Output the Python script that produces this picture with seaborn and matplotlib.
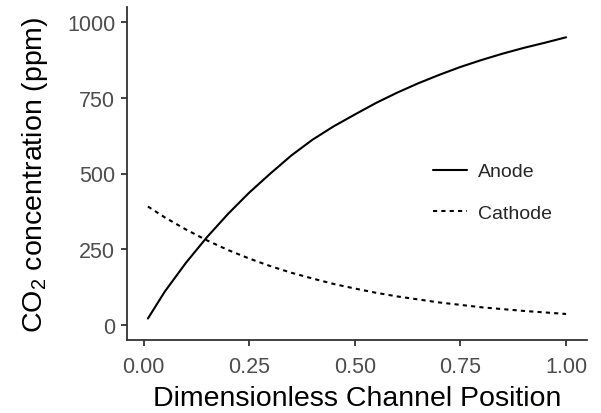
import numpy as np
import pandas as pd
import matplotlib
matplotlib.use("Agg")
import matplotlib.pyplot as plt
import seaborn as sns

# ── data ────────────────────────────────────────────────
position = [0.01, 0.05, 0.10, 0.15, 0.20, 0.25, 0.30, 0.35, 0.40, 0.45, 0.50,
            0.55, 0.60, 0.65, 0.70, 0.75, 0.80, 0.85, 0.90, 0.95, 1.00]
anode    = [21, 110, 205, 290, 367, 437, 500, 560, 612, 656, 695,
            733, 767, 798, 826, 852, 875, 896, 915, 932, 950]
cathode  = [391, 355, 315, 279, 247, 219, 194, 172, 153, 135, 120,
            106, 94, 84, 74, 66, 58, 52, 46, 41, 36]

x_ticks  = [0.00, 0.25, 0.50, 0.75, 1.00]
y_ticks  = [0, 250, 500, 750, 1000]

df = pd.DataFrame({
    "position" : position * 2,
    "co2"      : anode + cathode,
    "electrode": ["Anode"] * len(anode) + ["Cathode"] * len(cathode),
})

# ── style ───────────────────────────────────────────────
sns.set_theme(style="ticks")
plt.rcParams["font.family"] = ["Liberation Sans", "DejaVu Sans"]
plt.rcParams["mathtext.fontset"] = "custom"
plt.rcParams["mathtext.rm"] = "Liberation Sans"
plt.rcParams["mathtext.it"] = "Liberation Sans:italic"

fig = plt.figure(figsize=(6.01, 4.14), dpi=100)
ax = fig.add_axes([127/601, (414-341)/414, (587-127)/601, (341-8)/414])

sns.lineplot(data=df, x="position", y="co2", style="electrode",
             color="black", lw=1.5,
             dashes={"Anode": "", "Cathode": (2, 2)}, ax=ax)

ax.set_xlim(-0.0395, 1.0495)
ax.set_ylim(-50, 1050)
ax.set_xticks(x_ticks)
ax.set_xticklabels([f"{t:.2f}" for t in x_ticks])
ax.set_yticks(y_ticks)
ax.set_yticklabels([str(t) for t in y_ticks])

for s in ["top", "right"]:
    ax.spines[s].set_visible(False)
for s in ["left", "bottom"]:
    ax.spines[s].set_color("#333333")
    ax.spines[s].set_linewidth(1.3)
ax.tick_params(axis="both", colors="#333333", width=1.3, length=4.5,
               labelsize=15.5, labelcolor="#4D4D4D")
ax.tick_params(axis="x", pad=7)
ax.tick_params(axis="y", pad=4)

ax.set_xlabel("Dimensionless Channel Position", fontsize=20.5, color="black", labelpad=6)
ax.set_ylabel("CO$_\\mathregular{2}$ concentration (ppm)", fontsize=20.5,
              color="black", labelpad=12)

leg = ax.legend(title=None, frameon=False, fontsize=14, handlelength=1.75,
                handletextpad=0.55, labelspacing=1.25,
                loc="center left", bbox_to_anchor=(0.627, 0.443))

plt.savefig("out.png", dpi=100)
plt.close()
